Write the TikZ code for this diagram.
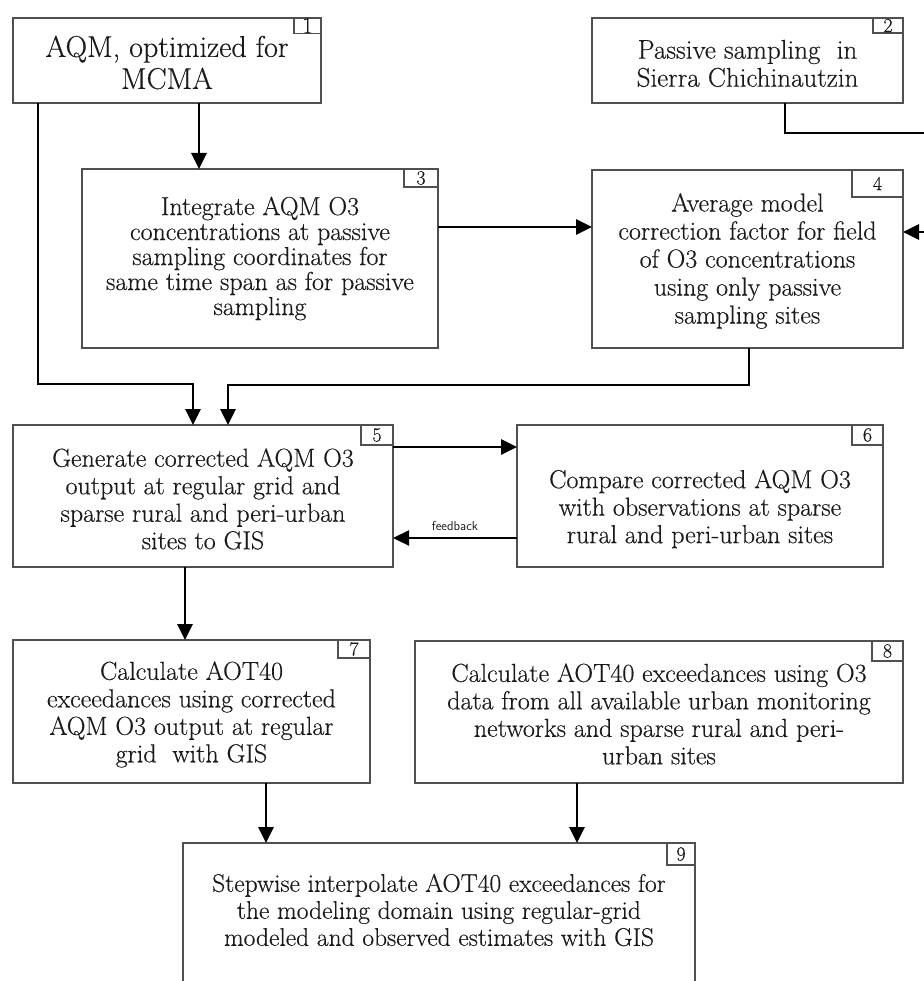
\documentclass[tikz,border=0pt]{standalone}
\usepackage{fontspec}
\setmainfont{Latin Modern Roman}[FakeBold=0.35]
\usetikzlibrary{arrows.meta}
\definecolor{txt}{HTML}{1A1A1A}
\definecolor{bord}{HTML}{505050}
\tikzset{
  box/.style={draw=bord, line width=1.3pt, fill=white, inner sep=0pt, outer sep=0pt, anchor=north west},
  numbox/.style={draw=bord, line width=1.2pt, inner sep=0pt, outer sep=0pt, anchor=north east, text=txt, font=\fontsize{20}{20}\selectfont},
  lbl/.style={align=center, text=txt, inner sep=0pt, font=\fontsize{26}{27.5}\selectfont},
  conn/.style={draw=black, line width=2.8pt, -{Triangle[length=16pt,width=15pt]}},
  fb/.style={font=\sffamily\fontsize{13}{13}\selectfont, text=txt, inner sep=1pt}
}
\begin{document}
\begin{tikzpicture}[x=1pt,y=-1pt]
\fill[white] (0,0) rectangle (923,981);
\useasboundingbox (0,0) rectangle (923,981);

% boxes
\node[box, minimum width=308pt, minimum height=85pt] (b1) at (13,18) {};
\node[box, minimum width=311pt, minimum height=85pt] (b2) at (592,18) {};
\node[box, minimum width=356pt, minimum height=179pt] (b3) at (82,169) {};
\node[box, minimum width=311pt, minimum height=178pt] (b4) at (592,170) {};
\node[box, minimum width=380pt, minimum height=142pt] (b5) at (13,425) {};
\node[box, minimum width=366pt, minimum height=142pt] (b6) at (517,425) {};
\node[box, minimum width=357pt, minimum height=143pt] (b7) at (13,640) {};
\node[box, minimum width=488pt, minimum height=142pt] (b8) at (415,641) {};
\node[box, minimum width=512pt, minimum height=160pt] (b9) at (183,843) {};

% number boxes
\node[numbox, minimum width=27pt, minimum height=15pt, font=\fontsize{23}{23}\selectfont] (n1) at (b1.north east) {1};
\node[numbox, minimum width=30pt, minimum height=15pt] (n2) at (b2.north east) {2};
\node[numbox, minimum width=34pt, minimum height=18pt] (n3) at (b3.north east) {3};
\node[numbox, minimum width=51pt, minimum height=27pt] (n4) at (b4.north east) {4};
\node[numbox, minimum width=32pt, minimum height=20pt] (n5) at (b5.north east) {5};
\node[numbox, minimum width=31pt, minimum height=20pt] (n6) at (b6.north east) {6};
\node[numbox, minimum width=32pt, minimum height=18pt] (n7) at (b7.north east) {7};
\node[numbox, minimum width=31pt, minimum height=20pt] (n8) at (b8.north east) {8};
\node[numbox, minimum width=28pt, minimum height=22pt] (n9) at (b9.north east) {9};

% texts
\node[lbl, font=\fontsize{30}{32}\selectfont] (t1) at ([yshift=-2pt]b1.center) {AQM, optimized for\\MCMA};
\node[lbl, font=\fontsize{27}{28}\selectfont] (t2) at ([yshift=-3pt]b2.center) {Passive sampling\ \ in\\Sierra Chichinautzin};
\node[lbl, font=\fontsize{26}{25}\selectfont] (t3) at (b3.center) {Integrate AQM O3\\concentrations at passive\\sampling coordinates for\\same time span as for passive\\sampling};
\node[lbl, font=\fontsize{26}{28}\selectfont] (t4) at ([yshift=-2pt]b4.center) {Average model\\correction factor for field\\of O3 concentrations\\using only passive\\sampling sites};
\node[lbl] (t5) at ([yshift=-3pt]b5.center) {Generate corrected AQM O3\\output at regular grid and\\sparse rural and peri-urban\\sites to GIS};
\node[lbl] (t6) at ([yshift=-13pt]b6.center) {Compare corrected AQM O3\\with observations at sparse\\rural and peri-urban sites};
\node[lbl] (t7) at ([yshift=-3pt]b7.center) {Calculate AOT40\\exceedances using corrected\\AQM O3 output at regular\\grid\ \ with GIS};
\node[lbl] (t8) at ([yshift=-2pt]b8.center) {Calculate AOT40 exceedances using O3\\data from all available urban monitoring\\networks and sparse rural and peri-\\urban sites};
\node[lbl, font=\fontsize{25.5}{27}\selectfont] (t9) at (439,910) {Stepwise interpolate AOT40 exceedances for\\the modeling domain using regular-grid\\modeled and observed estimates with GIS};

% connectors
\draw[conn] (b1.south -| 199,0) -- (b3.north -| 199,0);
\draw[conn] (b1.south -| 38,0) |- (193,384) -- (b5.north -| 193,0);
\draw[conn] (b3.east |- 0,227) -- (b4.west |- 0,227);
\draw[conn] (b2.south -| 785,0) |- (945,133) |- (b4.east |- 0,232);
\draw[conn] (b4.south -| 749,0) |- (228,385) -- (b5.north -| 228,0);
\draw[conn] (b5.east |- 0,447) -- (b6.west |- 0,447);
\draw[conn, line width=2.2pt] (b6.west |- 0,538) -- node[above=5pt, fb] (fbl) {feedback} (b5.east |- 0,538);
\draw[conn] (b5.south -| 185,0) -- (b7.north -| 185,0);
\draw[conn] (b7.south -| 266,0) -- (b9.north -| 266,0);
\draw[conn] (b8.south -| 577,0) -- (b9.north -| 577,0);
\end{tikzpicture}
\end{document}
